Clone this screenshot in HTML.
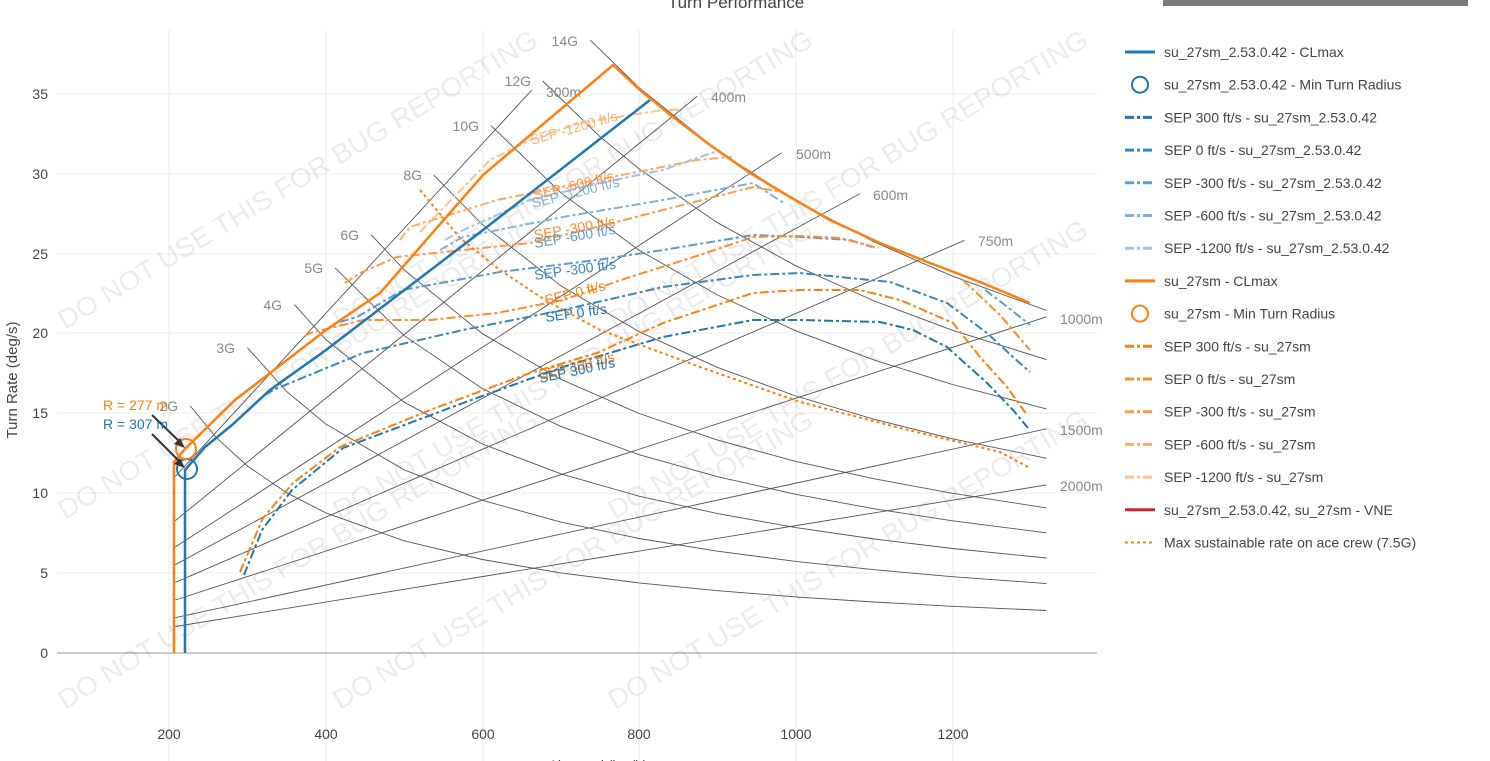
<!DOCTYPE html>
<html><head><meta charset="utf-8"><style>
html,body{margin:0;padding:0;background:#fff;overflow:hidden}
svg{display:block;font-family:"Liberation Sans",sans-serif}
</style></head><body>
<svg width="1490" height="761" viewBox="0 0 1490 761" xmlns="http://www.w3.org/2000/svg">
<rect width="1490" height="761" fill="#fff"/>
<rect x="1163" y="0" width="305" height="6" fill="#7a7a7a"/>
<text x="736" y="8" font-size="17" fill="#444" text-anchor="middle">Turn Performance</text>
<g stroke="#ebebeb" stroke-width="1">
<line x1="169" y1="30" x2="169" y2="761"/><line x1="326" y1="30" x2="326" y2="761"/><line x1="483" y1="30" x2="483" y2="761"/><line x1="639" y1="30" x2="639" y2="761"/><line x1="796" y1="30" x2="796" y2="761"/><line x1="953" y1="30" x2="953" y2="761"/>
<line x1="57" y1="94" x2="1097" y2="94"/><line x1="57" y1="174" x2="1097" y2="174"/><line x1="57" y1="254" x2="1097" y2="254"/><line x1="57" y1="333" x2="1097" y2="333"/><line x1="57" y1="413" x2="1097" y2="413"/><line x1="57" y1="493" x2="1097" y2="493"/><line x1="57" y1="573" x2="1097" y2="573"/>
</g>
<line x1="57" y1="653" x2="1097" y2="653" stroke="#999" stroke-width="1"/>
<g font-size="14" fill="#444" text-anchor="end">
<text x="48" y="99">35</text><text x="48" y="179">30</text><text x="48" y="259">25</text><text x="48" y="338">20</text><text x="48" y="418">15</text><text x="48" y="498">10</text><text x="48" y="578">5</text><text x="48" y="658">0</text>
</g>
<g font-size="14" fill="#444" text-anchor="middle">
<text x="169" y="739">200</text><text x="326" y="739">400</text><text x="483" y="739">600</text><text x="639" y="739">800</text><text x="796" y="739">1000</text><text x="953" y="739">1200</text>
<text x="598" y="770">Airspeed (km/h)</text>
</g>
<text transform="translate(17,380) rotate(-90)" font-size="15" fill="#444" text-anchor="middle">Turn Rate (deg/s)</text>

<g font-size="27" fill="#000" fill-opacity="0.08">
<text transform="translate(65,330) rotate(-31)" textLength="554" lengthAdjust="spacingAndGlyphs">DO NOT USE THIS FOR BUG REPORTING</text>
<text transform="translate(340,330) rotate(-31)" textLength="554" lengthAdjust="spacingAndGlyphs">DO NOT USE THIS FOR BUG REPORTING</text>
<text transform="translate(615,330) rotate(-31)" textLength="554" lengthAdjust="spacingAndGlyphs">DO NOT USE THIS FOR BUG REPORTING</text>
<text transform="translate(65,520) rotate(-31)" textLength="554" lengthAdjust="spacingAndGlyphs">DO NOT USE THIS FOR BUG REPORTING</text>
<text transform="translate(340,520) rotate(-31)" textLength="554" lengthAdjust="spacingAndGlyphs">DO NOT USE THIS FOR BUG REPORTING</text>
<text transform="translate(615,520) rotate(-31)" textLength="554" lengthAdjust="spacingAndGlyphs">DO NOT USE THIS FOR BUG REPORTING</text>
<text transform="translate(65,710) rotate(-31)" textLength="554" lengthAdjust="spacingAndGlyphs">DO NOT USE THIS FOR BUG REPORTING</text>
<text transform="translate(340,710) rotate(-31)" textLength="554" lengthAdjust="spacingAndGlyphs">DO NOT USE THIS FOR BUG REPORTING</text>
<text transform="translate(615,710) rotate(-31)" textLength="554" lengthAdjust="spacingAndGlyphs">DO NOT USE THIS FOR BUG REPORTING</text>
</g>

<g fill="none" stroke="#555" stroke-width="0.9">
<polyline points="190.2,405.9 216,437.3 247.4,466 286.5,492.7 325.7,512.8 404.1,540.8 482.4,559.5 560.8,572.9 639.1,582.9 717.5,590.7 795.8,596.9 874.2,602 952.5,606.3 1046.5,610.5"/>
<polyline points="247.4,347.7 286.5,391.3 325.7,424 404.1,469.8 482.4,500.3 560.8,522.1 639.1,538.5 717.5,551.2 795.8,561.4 874.2,569.7 952.5,576.7 1046.5,583.6"/>
<polyline points="294.4,304.6 325.7,339.4 404.1,402.2 482.4,444 560.8,473.8 639.1,496.2 717.5,513.6 795.8,527.6 874.2,539 952.5,548.5 1046.5,558"/>
<polyline points="335.1,267.9 404.1,335.7 482.4,388.6 560.8,426.4 639.1,454.7 717.5,476.7 795.8,494.3 874.2,508.8 952.5,520.8 1046.5,532.8"/>
<polyline points="371.1,234.7 404.1,269.8 482.4,333.7 560.8,379.3 639.1,413.5 717.5,440.1 795.8,461.4 874.2,478.8 952.5,493.3 1046.5,507.9"/>
<polyline points="433.8,175.2 482.4,224.6 560.8,285.8 639.1,331.7 717.5,367.4 795.8,396 874.2,419.3 952.5,438.8 1046.5,458.3"/>
<polyline points="491,125.6 560.8,192.7 639.1,250.2 717.5,295 795.8,330.8 874.2,360.1 952.5,384.5 1046.5,408.9"/>
<polyline points="542.7,81 600,136.7 639.1,168.9 717.5,222.7 795.8,265.8 874.2,301 952.5,330.3 1046.5,359.6"/>
<polyline points="590.5,40.3 639.1,87.7 717.5,150.5 795.8,200.8 874.2,241.9 952.5,276.2 1046.5,310.4"/>
<line x1="175.3" y1="476.4" x2="531.8" y2="90.1"/>
<line x1="175.3" y1="520.6" x2="697.1" y2="96.4"/>
<line x1="175.3" y1="547" x2="781.7" y2="152.7"/>
<line x1="175.3" y1="564.7" x2="860.1" y2="193.6"/>
<line x1="175.3" y1="582.4" x2="964.3" y2="240.4"/>
<line x1="175.3" y1="600" x2="1046.5" y2="316.8"/>
<line x1="175.3" y1="617.7" x2="1046.5" y2="428.8"/>
<line x1="175.3" y1="626.5" x2="1046.5" y2="484.9"/>
</g>
<g font-size="14" fill="#888" text-anchor="end">
<text x="178" y="411">2G</text><text x="235" y="353">3G</text><text x="282" y="310">4G</text><text x="323" y="273">5G</text><text x="359" y="240">6G</text><text x="422" y="180">8G</text><text x="479" y="131">10G</text><text x="531" y="86">12G</text><text x="578" y="46">14G</text>
</g>
<g font-size="14" fill="#888">
<text x="546" y="97">300m</text><text x="711" y="102">400m</text><text x="796" y="159">500m</text><text x="873" y="200">600m</text><text x="978" y="246">750m</text><text x="1060" y="324">1000m</text><text x="1060" y="435">1500m</text><text x="1060" y="491">2000m</text>
</g>

<g fill="none" stroke-width="2" stroke-dasharray="9,3,3,3">
<polyline stroke="#ffc08c" points="420,232 490,160 530,140 580,123 663,110 678,110"/>
<polyline stroke="#9cc5e6" points="445,240 457,233 530,200 600,183 663,170 720,150"/>
<polyline stroke="#ffab66" points="400,240 410,227 497,200 597,180 697,160 732,157"/>
<polyline stroke="#7fb3dc" points="440,250 463,237 563,217 663,200 753,183 785,204"/>
<polyline stroke="#ff9a45" points="345,283 360,273 397,257 463,250 530,243 597,227 663,210 753,187 782,192"/>
<polyline stroke="#5a9bd0" points="340,322 357,317 403,290 500,272 597,260 663,250 753,235 800,237 850,240 872,247"/>
<polyline stroke="#5a9bd0" points="985,290 1005,305 1030,325"/>
<polyline stroke="#ff8c2a" points="305,336 310,333 363,320 430,320 497,313 563,300 630,277 700,255 753,237 800,236 840,238 878,248"/>
<polyline stroke="#ff8c2a" points="963,280 1000,315 1030,350"/>
<polyline stroke="#3a86c0" points="265,395 273,390 363,353 463,330 563,310 663,287 753,275 800,273 850,278 890,282 947,303 987,333 1013,357 1030,372"/>
<polyline stroke="#1f77b4" points="244,575 262,530 292,490 343,448 463,403 563,367 663,337 753,320 800,320 880,322 913,330 947,347 987,383 1013,410 1028,428"/>
<polyline stroke="#ff7f0e" points="240,572 263,518 293,483 340,447 430,410 530,373 597,353 663,323 753,293 800,290 860,290 900,300 953,323 980,357 1007,387 1027,415"/>
</g>
<polyline fill="none" stroke="#ff7f0e" stroke-width="2" stroke-dasharray="3,3" points="420,190 460,238 500,270 545,300 600,330 700,367 800,402 900,428 1000,452 1030,468"/>
<polyline fill="none" stroke="#1f77b4" stroke-width="2.5" points="185,653 185,470 205,447 232,425 270,390 326,350 483,230 650,100"/>
<polyline fill="none" stroke="#ff7f0e" stroke-width="2.5" points="174,653 174,462 185,449 235,400 326,330 380,293 483,175 613,65 640,90 673,117 710,145 750,173 790,197 830,220 880,243 930,263 980,282 1030,303"/>
<circle cx="187" cy="469" r="10" fill="none" stroke="#1f77b4" stroke-width="2"/>
<circle cx="186" cy="449" r="10" fill="none" stroke="#ff7f0e" stroke-width="2"/>
<g stroke="#333" stroke-width="2"><line x1="152" y1="415" x2="182" y2="444"/><line x1="152" y1="434" x2="182" y2="464"/></g>
<polygon points="185,448 174,444 180,438" fill="#333"/><polygon points="185,468 174,464 180,458" fill="#333"/>
<text x="103" y="410" font-size="14" fill="#ff7f0e">R = 277 m</text>
<text x="103" y="429" font-size="14" fill="#1f77b4">R = 307 m</text>
<g font-size="14">
<text transform="translate(532,145) rotate(-16)" fill="#ffb07a">SEP -1200 ft/s</text>
<text transform="translate(535,200) rotate(-14)" fill="#ff9a45">SEP -600 ft/s</text>
<text transform="translate(533,208) rotate(-14)" fill="#7fb3dc">SEP -1200 ft/s</text>
<text transform="translate(535,240) rotate(-10)" fill="#ff8c2a">SEP -300 ft/s</text>
<text transform="translate(535,248) rotate(-10)" fill="#5a9bd0">SEP -600 ft/s</text>
<text transform="translate(535,280) rotate(-8)" fill="#3a86c0">SEP -300 ft/s</text>
<text transform="translate(546,305) rotate(-14)" fill="#ff7f0e">SEP 0 ft/s</text>
<text transform="translate(546,322) rotate(-8)" fill="#1f77b4">SEP 0 ft/s</text>
<text transform="translate(540,380) rotate(-14)" fill="#ff7f0e">SEP 300 ft/s</text>
<text transform="translate(540,383) rotate(-12)" fill="#1f77b4">SEP 300 ft/s</text>
</g>

<g font-size="14" fill="#444">
<line x1="1125" y1="52" x2="1155" y2="52" stroke="#1f77b4" stroke-width="3"/><text x="1164" y="57">su_27sm_2.53.0.42 - CLmax</text>
<circle cx="1140" cy="84.7" r="8" fill="none" stroke="#1f77b4" stroke-width="2"/><text x="1164" y="89.7">su_27sm_2.53.0.42 - Min Turn Radius</text>
<line x1="1125" y1="117.4" x2="1155" y2="117.4" stroke="#1f77b4" stroke-width="3" stroke-dasharray="9,3,3,3"/><text x="1164" y="122.4">SEP 300 ft/s - su_27sm_2.53.0.42</text>
<line x1="1125" y1="150.1" x2="1155" y2="150.1" stroke="#3a86c0" stroke-width="3" stroke-dasharray="9,3,3,3"/><text x="1164" y="155.1">SEP 0 ft/s - su_27sm_2.53.0.42</text>
<line x1="1125" y1="182.8" x2="1155" y2="182.8" stroke="#5a9bd0" stroke-width="3" stroke-dasharray="9,3,3,3"/><text x="1164" y="187.8">SEP -300 ft/s - su_27sm_2.53.0.42</text>
<line x1="1125" y1="215.5" x2="1155" y2="215.5" stroke="#7fb3dc" stroke-width="3" stroke-dasharray="9,3,3,3"/><text x="1164" y="220.5">SEP -600 ft/s - su_27sm_2.53.0.42</text>
<line x1="1125" y1="248.2" x2="1155" y2="248.2" stroke="#9cc5e6" stroke-width="3" stroke-dasharray="9,3,3,3"/><text x="1164" y="253.2">SEP -1200 ft/s - su_27sm_2.53.0.42</text>
<line x1="1125" y1="280.9" x2="1155" y2="280.9" stroke="#ff7f0e" stroke-width="3"/><text x="1164" y="285.9">su_27sm - CLmax</text>
<circle cx="1140" cy="313.6" r="8" fill="none" stroke="#ff7f0e" stroke-width="2"/><text x="1164" y="318.6">su_27sm - Min Turn Radius</text>
<line x1="1125" y1="346.3" x2="1155" y2="346.3" stroke="#ff7f0e" stroke-width="3" stroke-dasharray="9,3,3,3"/><text x="1164" y="351.3">SEP 300 ft/s - su_27sm</text>
<line x1="1125" y1="379" x2="1155" y2="379" stroke="#ff8c2a" stroke-width="3" stroke-dasharray="9,3,3,3"/><text x="1164" y="384">SEP 0 ft/s - su_27sm</text>
<line x1="1125" y1="411.7" x2="1155" y2="411.7" stroke="#ff9a45" stroke-width="3" stroke-dasharray="9,3,3,3"/><text x="1164" y="416.7">SEP -300 ft/s - su_27sm</text>
<line x1="1125" y1="444.4" x2="1155" y2="444.4" stroke="#ffab66" stroke-width="3" stroke-dasharray="9,3,3,3"/><text x="1164" y="449.4">SEP -600 ft/s - su_27sm</text>
<line x1="1125" y1="477.1" x2="1155" y2="477.1" stroke="#ffc08c" stroke-width="3" stroke-dasharray="9,3,3,3"/><text x="1164" y="482.1">SEP -1200 ft/s - su_27sm</text>
<line x1="1125" y1="509.8" x2="1155" y2="509.8" stroke="#d62728" stroke-width="3"/><text x="1164" y="514.8">su_27sm_2.53.0.42, su_27sm - VNE</text>
<line x1="1125" y1="542.5" x2="1155" y2="542.5" stroke="#ff7f0e" stroke-width="2" stroke-dasharray="3,3"/><text x="1164" y="547.5">Max sustainable rate on ace crew (7.5G)</text>
</g>
</svg>
</body></html>
